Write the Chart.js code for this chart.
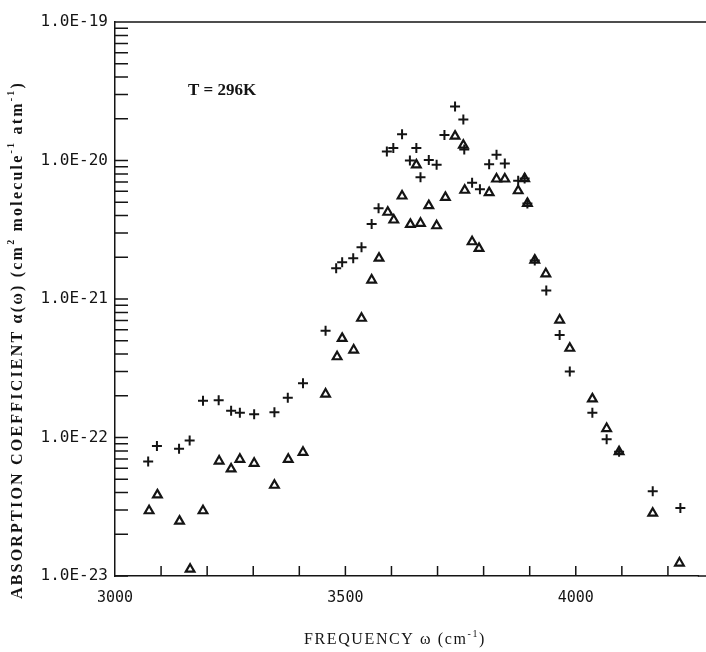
<!DOCTYPE html>
<html lang="en">
<head>
  <meta charset="UTF-8">
  <title>Absorption coefficient T = 296K</title>
  <script src="https://cdn.jsdelivr.net/npm/chart.js"></script>
  <style>
    html, body {
      margin: 0;
      padding: 0;
      background: #fff;
    }
    #wrap {
      width: 706px;
      height: 652px;
    }
  </style>
</head>
<body>
<div id="wrap">
  <canvas id="myChart" width="706" height="652"></canvas>
</div>

<script>
  // "+" points
  const plusFreq = [3072, 3091, 3139, 3162, 3191, 3225, 3252, 3271, 3302, 3346, 3375, 3408,
    3457, 3480, 3493, 3517, 3535, 3557, 3572, 3590, 3604, 3623, 3640, 3654, 3663, 3681,
    3698, 3715, 3738, 3756, 3758, 3775, 3792, 3812, 3828, 3846, 3875, 3889, 3895, 3911,
    3936, 3965, 3987, 4036, 4067, 4094, 4167, 4227];
  const plusAlpha = [6.7e-23, 8.7e-23, 8.3e-23, 9.5e-23, 1.84e-22, 1.86e-22, 1.56e-22, 1.51e-22,
    1.47e-22, 1.52e-22, 1.94e-22, 2.46e-22, 5.9e-22, 1.67e-21, 1.84e-21, 1.97e-21, 2.36e-21,
    3.48e-21, 4.52e-21, 1.16e-20, 1.23e-20, 1.55e-20, 1.0e-20, 1.23e-20, 7.56e-21, 1.01e-20,
    9.3e-21, 1.53e-20, 2.45e-20, 1.98e-20, 1.2e-20, 6.9e-21, 6.2e-21, 9.4e-21, 1.10e-20,
    9.5e-21, 7.15e-21, 7.4e-21, 4.9e-21, 1.9e-21, 1.15e-21, 5.5e-22, 3.0e-22, 1.51e-22,
    9.7e-23, 7.9e-23, 4.1e-23, 3.1e-23];

  // triangle points
  const triFreq = [3074, 3092, 3140, 3163, 3191, 3226, 3252, 3271, 3302, 3346, 3376, 3408,
    3457, 3482, 3493, 3518, 3535, 3557, 3573, 3592, 3605, 3623, 3641, 3654, 3663, 3681,
    3698, 3717, 3738, 3756, 3759, 3775, 3790, 3812, 3828, 3846, 3875, 3889, 3895, 3911,
    3935, 3965, 3987, 4036, 4067, 4094, 4167, 4225];
  const triAlpha = [2.96e-23, 3.85e-23, 2.49e-23, 1.12e-23, 2.96e-23, 6.76e-23, 5.93e-23, 6.96e-23,
    6.51e-23, 4.52e-23, 6.96e-23, 7.82e-23, 2.06e-22, 3.83e-22, 5.2e-22, 4.28e-22, 7.26e-22,
    1.37e-21, 1.97e-21, 4.23e-21, 3.72e-21, 5.54e-21, 3.46e-21, 9.3e-21, 3.52e-21, 4.72e-21,
    3.38e-21, 5.42e-21, 1.50e-20, 1.29e-20, 6.1e-21, 2.59e-21, 2.32e-21, 5.86e-21, 7.35e-21,
    7.35e-21, 6.05e-21, 7.4e-21, 4.9e-21, 1.91e-21, 1.52e-21, 7.05e-22, 4.41e-22, 1.90e-22,
    1.16e-22, 7.9e-23, 2.84e-23, 1.24e-23];

  // axes
  const decadeExps = [-23, -22, -21, -20, -19];
  const freqLabels = [3000, 3500, 4000];
  const freqTickStep = 100;
  const freqTickLast = 4200;

  const INK = '#141414';

  // draw text made of normal and superscript parts, centred on (0,0)
  function drawRich(ctx, parts, size, weight, family, spacing) {
    const supSize = Math.round(size * 0.62);
    ctx.letterSpacing = spacing + 'px';
    let total = 0;
    parts.forEach(p => {
      ctx.font = weight + ' ' + (p.sup ? supSize : size) + 'px ' + family;
      p.w = ctx.measureText(p.t).width;
      total += p.w;
    });
    let cx = -total / 2;
    parts.forEach(p => {
      ctx.font = weight + ' ' + (p.sup ? supSize : size) + 'px ' + family;
      ctx.fillText(p.t, cx, p.sup ? -size * 0.38 : 0);
      cx += p.w;
    });
    ctx.letterSpacing = '0px';
  }

  const paperText = {
    id: 'paperText',
    afterDraw(chart) {
      const {ctx, chartArea: a, scales: {x, y}} = chart;
      ctx.save();
      ctx.strokeStyle = INK;
      ctx.lineWidth = 1.5;
      ctx.beginPath();
      // top frame line, and both frame lines run on to the page edge
      ctx.moveTo(a.left, a.top);
      ctx.lineTo(chart.width, a.top);
      ctx.moveTo(a.right - 1, a.bottom);
      ctx.lineTo(chart.width, a.bottom);
      // ticks pointing into the plot
      y.ticks.forEach(t => {
        const py = y.getPixelForValue(t.value);
        ctx.moveTo(a.left, py);
        ctx.lineTo(a.left + 13, py);
      });
      x.ticks.forEach(t => {
        if (t.value <= x.min) return;
        const px = x.getPixelForValue(t.value);
        ctx.moveTo(px, a.bottom);
        ctx.lineTo(px, a.bottom - 10);
      });
      ctx.stroke();

      ctx.fillStyle = INK;
      ctx.textBaseline = 'middle';
      ctx.textAlign = 'left';

      // y title
      ctx.save();
      ctx.translate(18, 340);
      ctx.rotate(-Math.PI / 2);
      drawRich(ctx, [
        {t: 'ABSORPTION COEFFICIENT \u03b1(\u03c9) (cm'},
        {t: '2', sup: true},
        {t: ' molecule'},
        {t: '-1', sup: true},
        {t: ' atm'},
        {t: '-1', sup: true},
        {t: ')'}
      ], 16, 'bold', '"Liberation Serif", serif', 2.2);
      ctx.restore();

      // x title
      ctx.save();
      ctx.translate(395, 640);
      drawRich(ctx, [
        {t: 'FREQUENCY \u03c9 (cm'},
        {t: '-1', sup: true},
        {t: ')'}
      ], 16, 'normal', '"Liberation Serif", serif', 1.6);
      ctx.restore();

      // temperature note
      ctx.font = 'bold 17px "Liberation Serif", serif';
      ctx.fillText('T = 296K', 188, 91);
      ctx.restore();
    }
  };

  const ctx = document.getElementById('myChart').getContext('2d');
  const myChart = new Chart(ctx, {
    type: 'scatter',
    data: {
      datasets: [{
        label: 'plus',
        data: plusFreq.map((f, i) => ({x: f, y: plusAlpha[i]})),
        pointStyle: 'cross',
        pointRadius: 5,
        borderColor: INK,
        borderWidth: 2,
        clip: false
      }, {
        label: 'triangle',
        data: triFreq.map((f, i) => ({x: f, y: triAlpha[i]})),
        pointStyle: 'triangle',
        pointRadius: 5,
        borderColor: INK,
        backgroundColor: 'rgba(0,0,0,0)',
        borderWidth: 2.2,
        clip: false
      }]
    },
    options: {
      responsive: false,
      animation: false,
      devicePixelRatio: 1,
      layout: {
        padding: {top: 22, right: 0, left: 0, bottom: 0}
      },
      scales: {
        x: {
          type: 'linear',
          min: 3000,
          max: 4267,
          afterFit: scale => { scale.height = 76; },
          afterBuildTicks: scale => {
            const list = [];
            for (let v = scale.min; v <= freqTickLast; v += freqTickStep) list.push({value: v});
            scale.ticks = list;
          },
          grid: {drawOnChartArea: false, drawTicks: false},
          border: {display: true, color: INK, width: 1.5},
          ticks: {
            autoSkip: false,
            maxRotation: 0,
            padding: 13,
            color: INK,
            font: {family: '"DejaVu Sans Mono", monospace', size: 15},
            callback: value => freqLabels.includes(value) ? String(value) : ''
          }
        },
        y: {
          type: 'logarithmic',
          min: 1e-23,
          max: 1e-19,
          afterFit: scale => { scale.width = 115; },
          afterBuildTicks: scale => {
            const list = [];
            decadeExps.forEach((e, k) => {
              for (let m = 1; m <= 9; m++) {
                if (k === decadeExps.length - 1 && m > 1) break;
                list.push({value: m * Math.pow(10, e), major: m === 1, exp: e});
              }
            });
            scale.ticks = list;
          },
          grid: {drawOnChartArea: false, drawTicks: false},
          border: {display: true, color: INK, width: 1.5},
          ticks: {
            autoSkip: false,
            padding: 7,
            color: INK,
            font: {family: '"DejaVu Sans Mono", monospace', size: 16},
            callback: (value, index, ticks) => {
              const t = ticks[index];
              return t.major ? '1.0E' + t.exp : '';
            }
          }
        }
      },
      plugins: {
        legend: {display: false},
        tooltip: {enabled: false}
      }
    },
    plugins: [paperText]
  });
</script>
</body>
</html>
